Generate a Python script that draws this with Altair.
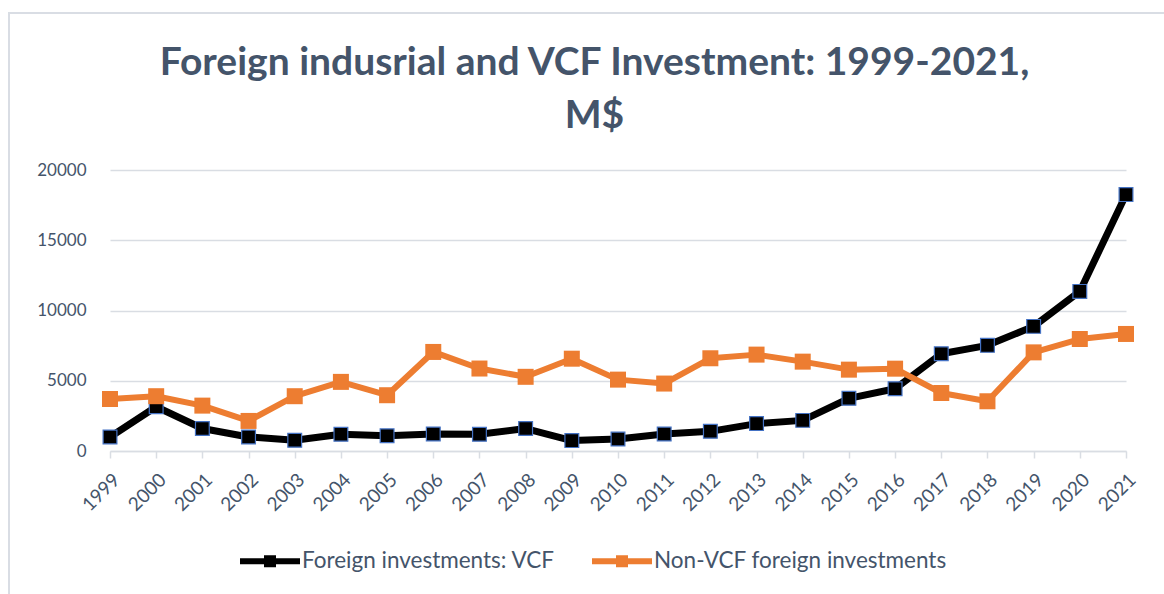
import altair as alt
import pandas as pd

years = [str(y) for y in range(1999, 2022)]
vcf = [1000, 3150, 1600, 1000, 760, 1190, 1080, 1210, 1190, 1600, 740, 850,
       1210, 1400, 1950, 2180, 3750, 4430, 6920, 7520, 8870, 11360, 18250]
non_vcf = [3700, 3900, 3230, 2140, 3900, 4920, 3970, 7050, 5870, 5280, 6570, 5080,
           4800, 6600, 6860, 6360, 5790, 5860, 4130, 3540, 7020, 7970, 8330]
series_names = ["Foreign investments: VCF", "Non-VCF foreign investments"]
series_colors = ["#000000", "#ED7D31"]

df = pd.DataFrame({
    "year": years * 2,
    "value": vcf + non_vcf,
    "series": [series_names[0]] * len(years) + [series_names[1]] * len(years),
})

TXT = "#44546A"
FONT = "Lato"
GRID = "#D9DDE3"

x = alt.X("year:O", scale=alt.Scale(type="point", padding=0), title=None,
          axis=alt.Axis(labelAngle=315, labelFontSize=19, labelColor=TXT, labelFont=FONT,
                        domainColor=GRID, domainWidth=1.5, tickColor=GRID,
                        tickWidth=1.5, tickSize=7, labelPadding=12, grid=False))
y = alt.Y("value:Q", scale=alt.Scale(domain=[0, 20000], nice=False), title=None,
          axis=alt.Axis(values=[0, 5000, 10000, 15000, 20000], format="d",
                        labelFontSize=17, labelColor=TXT, labelFont=FONT,
                        domain=False, ticks=False, labelPadding=24,
                        gridColor=GRID, gridWidth=1.5))

color_scale = alt.Scale(domain=series_names, range=series_colors)
legend_path = "M-1,-0.1H1V0.1H-1Z M-0.2,-0.2H0.2V0.2H-0.2Z"

base = alt.Chart(df).encode(x=x, y=y)

frame = alt.Chart(df).mark_rect(fill=None, stroke=GRID, strokeWidth=1.5).encode(
    x=alt.value(-101), x2=alt.value(1070), y=alt.value(-157), y2=alt.value(450))

line_vcf = base.transform_filter(alt.datum.series == series_names[0]).mark_line(
    color=series_colors[0], strokeWidth=7, strokeJoin="round")
line_non = base.transform_filter(alt.datum.series == series_names[1]).mark_line(
    color=series_colors[1], strokeWidth=6, strokeJoin="round")

pts_vcf = base.transform_filter(alt.datum.series == series_names[0]).mark_square(
    size=190, filled=True, stroke="#4472C4", strokeWidth=1.2, opacity=1).encode(
    color=alt.Color("series:N", scale=color_scale,
                    legend=alt.Legend(title=None, orient="none", direction="horizontal",
                                      legendX=130, legendY=361,
                                      symbolType=legend_path, symbolSize=3600,
                                      symbolStrokeWidth=0, labelFontSize=22.5,
                                      labelColor=TXT, labelFont=FONT, labelOffset=2,
                                      labelLimit=0, columnPadding=37, symbolOpacity=1)))
pts_non = base.transform_filter(alt.datum.series == series_names[1]).mark_square(
    size=256, filled=True, opacity=1).encode(
    color=alt.Color("series:N", scale=color_scale))

chart = alt.layer(frame, line_vcf, pts_vcf, line_non, pts_non).properties(
    width=1016, height=281,
    title=alt.TitleParams(
        text=["Foreign indusrial and VCF Investment: 1999-2021,", "M$"],
        fontSize=39, font=FONT, fontWeight="bold", color=TXT, anchor="middle",
        lineHeight=53, offset=-124, frame="bounds"),
    autosize=alt.AutoSizeParams(type="none"),
    padding={"left": 110, "top": 170, "right": 38, "bottom": 143},
).configure(background="white").configure_view(stroke=None)

chart.save("out.html", embed_options={"renderer": "svg", "actions": False})
